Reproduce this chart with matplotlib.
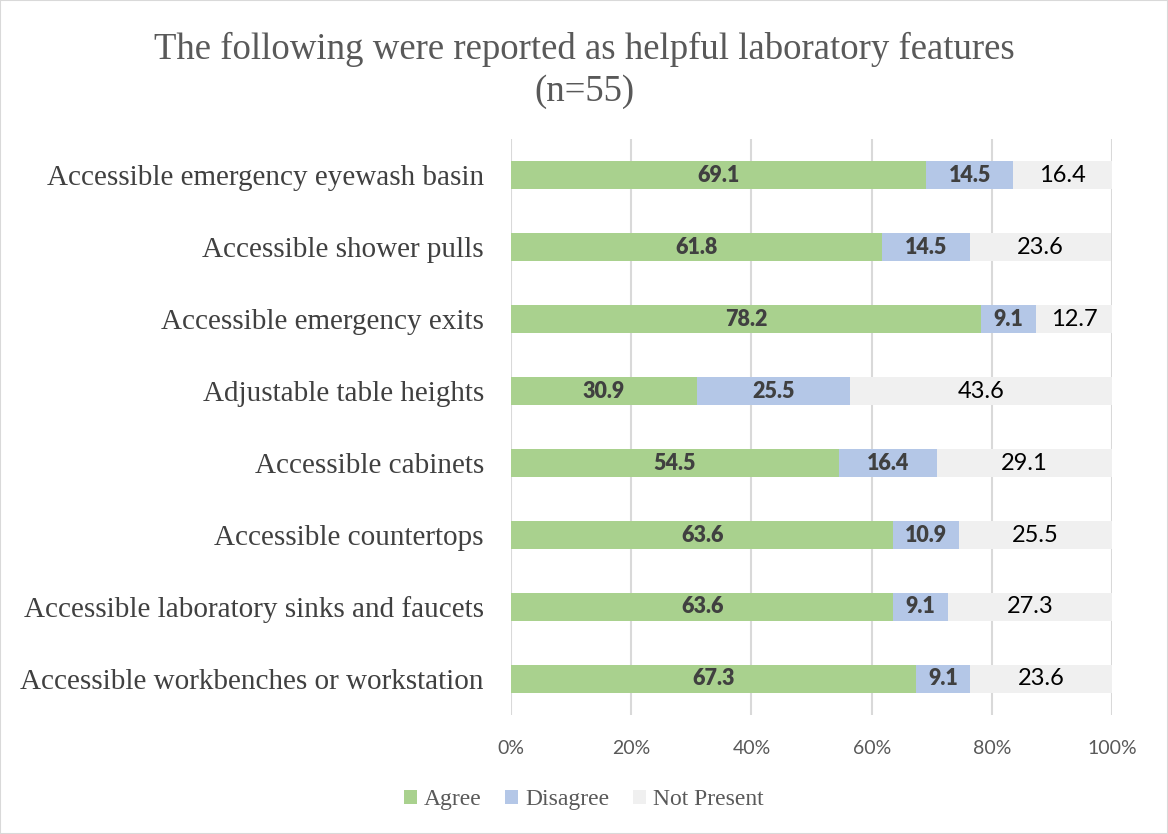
import matplotlib.pyplot as plt
from matplotlib.patches import Rectangle
from matplotlib.ticker import PercentFormatter

features = [
    "Accessible emergency eyewash basin",
    "Accessible shower pulls",
    "Accessible emergency exits",
    "Adjustable table heights",
    "Accessible cabinets",
    "Accessible countertops",
    "Accessible laboratory sinks and faucets",
    "Accessible workbenches or workstation",
]
agree = [69.1, 61.8, 78.2, 30.9, 54.5, 63.6, 63.6, 67.3]
disagree = [14.5, 14.5, 9.1, 25.5, 16.4, 10.9, 9.1, 9.1]
not_present = [16.4, 23.6, 12.7, 43.6, 29.1, 25.5, 27.3, 23.6]

series = ["Agree", "Disagree", "Not Present"]
colors = ["#A9D18E", "#B4C7E7", "#F0F0F0"]

serif = "Liberation Serif"
sans = "Lato"

fig = plt.figure(figsize=(11.68, 8.34), dpi=100)
fig.patches.append(Rectangle((0, 0), 1, 1, transform=fig.transFigure,
                             fill=False, edgecolor="#D9D9D9", linewidth=1.5))
ax = fig.add_axes([0.4375, 0.1427, 0.5146, 0.6906])

y = list(range(len(features)))[::-1]
left = [0] * len(features)
for name, vals, col in zip(series, [agree, disagree, not_present], colors):
    bars = ax.barh(y, vals, left=left, height=0.4, color=col, label=name, zorder=2)
    if name == "Not Present":
        ax.bar_label(bars, labels=[f"{v:.1f}" for v in vals], label_type="center",
                     fontsize=17, family=sans, color="#000000")
    else:
        ax.bar_label(bars, labels=[f"{v:.1f}" for v in vals], label_type="center",
                     fontsize=15.5, family=sans, fontweight="heavy", color="#404040")
    left = [a + b for a, b in zip(left, vals)]

ax.set_xlim(0, 100)
ax.set_ylim(-0.5, len(features) - 0.5)
ax.set_yticks(y)
ax.set_yticklabels(features, family=serif, fontsize=21, color="#404040")
ax.set_xticks([0, 20, 40, 60, 80, 100])
ax.xaxis.set_major_formatter(PercentFormatter(decimals=0))
for lbl in ax.get_xticklabels():
    lbl.set_family(sans)
    lbl.set_fontsize(14)
    lbl.set_color("#595959")
ax.tick_params(axis="both", length=0)
ax.tick_params(axis="x", pad=18)
ax.tick_params(axis="y", pad=19.5)
ax.grid(axis="x", color="#D9D9D9", linewidth=1.5, zorder=0)
for s in ax.spines.values():
    s.set_visible(False)

fig.suptitle("The following were reported as helpful laboratory features\n(n=55)",
             family=serif, fontsize=26.5, color="#595959", y=0.962, linespacing=1.3)

fig.legend(loc="lower center", bbox_to_anchor=(0.5, 0.003), ncol=3, frameon=False,
           prop={"family": serif, "size": 17}, labelcolor="#595959",
           handlelength=0.55, handleheight=0.55, handletextpad=0.3, columnspacing=1.0)

fig.savefig("out.png", dpi=100)
